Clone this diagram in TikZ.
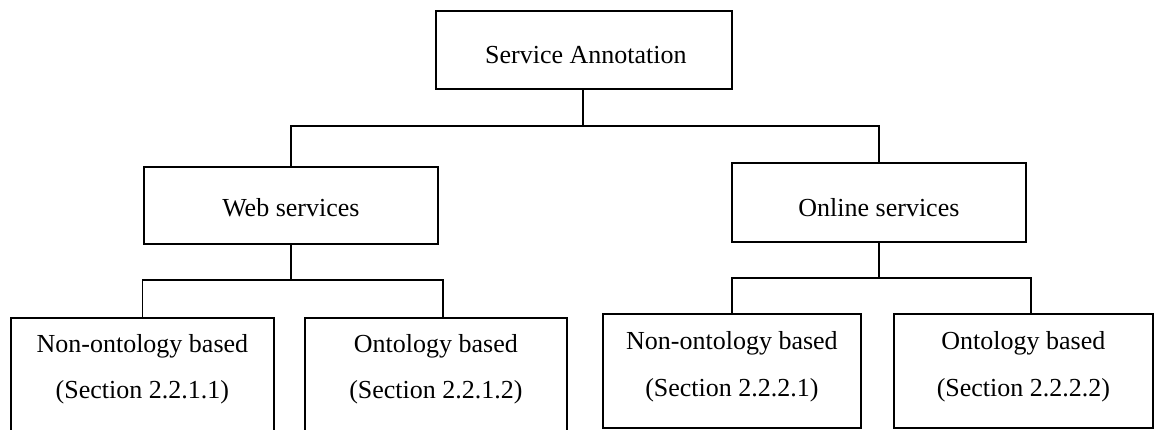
\documentclass[tikz,border=0pt]{standalone}
\usepackage{fontspec}
\setmainfont{Liberation Serif}
\begin{document}
\begin{tikzpicture}[x=1pt,y=-1pt,
  box/.style={draw, line width=1.8pt, inner sep=0pt, anchor=north west},
  lbl/.style={font=\fontsize{26}{30}\selectfont, anchor=base, inner sep=0pt},
  link/.style={line width=1.8pt}]
\useasboundingbox (0,0) rectangle (1155,429);
\clip (0,0) rectangle (1155,429);

% root
\node[box, minimum width=296pt, minimum height=78pt] (root) at (435,10) {};
\node[lbl] (rootT) at ([xshift=2pt]root.center |- 0,63) {Service Annotation};

% second level
\node[box, minimum width=294pt, minimum height=77pt] (web) at (143,166) {};
\node[lbl] (webT) at (web.center |- 0,216) {Web services};
\node[box, minimum width=294pt, minimum height=79pt] (online) at (731,162) {};
\node[lbl] (onlineT) at (online.center |- 0,216) {Online services};

% leaves under web services (run off the lower edge)
\node[box, minimum width=263pt, minimum height=140pt] (w1) at (10,317) {};
\node[lbl] (w1a) at (w1.north |- 0,352) {Non-ontology based};
\node[lbl] (w1b) at (w1.north |- 0,398) {(Section 2.2.1.1)};
\node[box, minimum width=262pt, minimum height=140pt] (w2) at (304,317) {};
\node[lbl] (w2a) at (w2.north |- 0,352) {Ontology based};
\node[lbl] (w2b) at (w2.north |- 0,398) {(Section 2.2.1.2)};

% leaves under online services
\node[box, minimum width=258pt, minimum height=114pt] (o1) at (602,313) {};
\node[lbl] (o1a) at (o1.north |- 0,349) {Non-ontology based};
\node[lbl] (o1b) at (o1.north |- 0,396) {(Section 2.2.2.1)};
\node[box, minimum width=259pt, minimum height=114pt] (o2) at (893,313) {};
\node[lbl] (o2a) at (o2.north |- 0,349) {Ontology based};
\node[lbl] (o2b) at (o2.north |- 0,396) {(Section 2.2.2.2)};

% bus lines
\coordinate (busA) at (0,126);
\coordinate (busW) at (0,280);
\coordinate (busO) at (0,278);
\coordinate (w2top) at (443,317);
\coordinate (o2top) at (1031,313);

\draw[link] ([xshift=-1pt]root.south) -- ([xshift=-1pt]root.south |- busA);
\draw[link] (web.north) -- (web.north |- busA) -- (online.north |- busA) -- (online.north);

\draw[link] (web.south) -- (web.south |- busW);
\draw[link] (w1.north) -- (w1.north |- busW) -- (w2top |- busW) -- (w2top);

\draw[link] (online.south) -- (online.south |- busO);
\draw[link] (o1.north) -- (o1.north |- busO) -- (o2top |- busO) -- (o2top);
\end{tikzpicture}
\end{document}
